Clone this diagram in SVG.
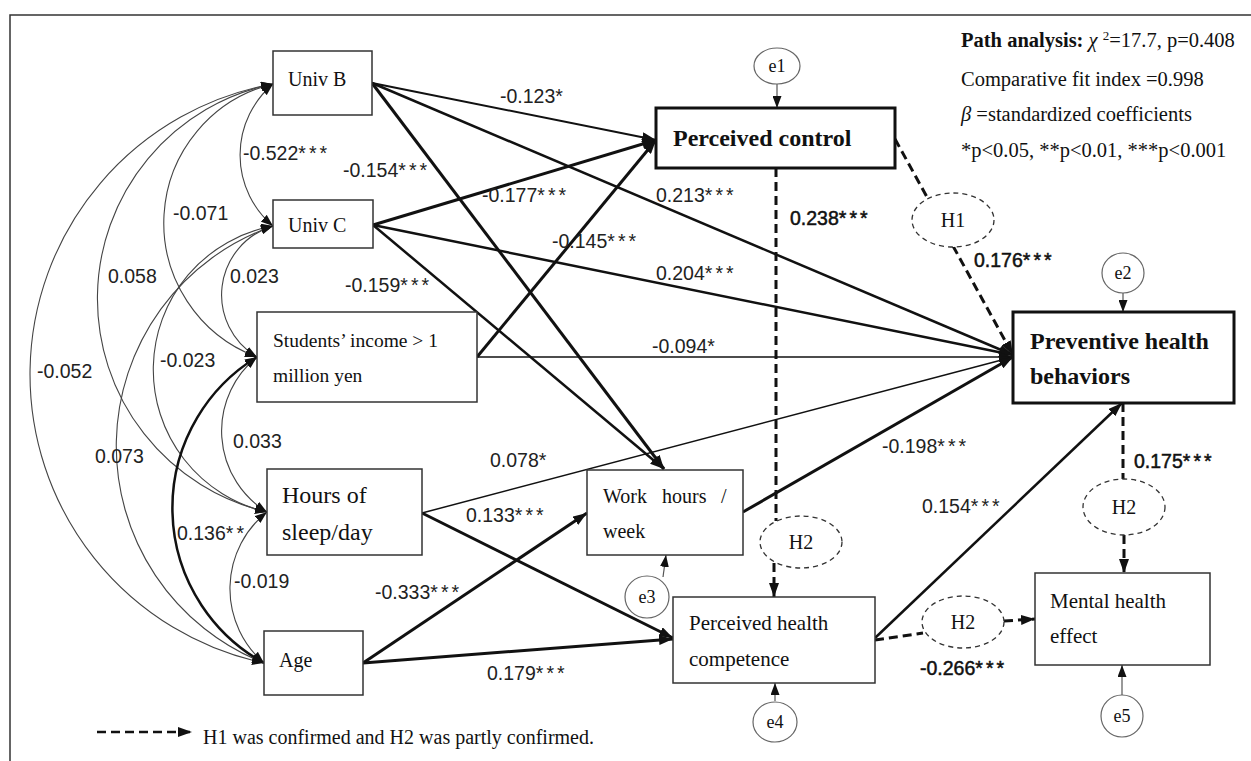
<svg xmlns="http://www.w3.org/2000/svg" width="1251" height="761" viewBox="0 0 1251 761">
<style>
.frame{fill:none;stroke:#333;stroke-width:1.5}
.box{fill:#fff;stroke:#333;stroke-width:1.5}
.tbox{fill:#fff;stroke:#111;stroke-width:3}
.err{fill:#fff;stroke:#666;stroke-width:1.2}
.hyp{fill:#fff;stroke:#333;stroke-width:1.3;stroke-dasharray:5 4}
.t{font-family:"Liberation Serif","Times New Roman",serif;fill:#111}
.n{font-family:"Liberation Sans",Arial,sans-serif;font-size:19.5px;fill:#222}
.nb{font-family:"Liberation Sans",Arial,sans-serif;font-size:19.5px;fill:#111;stroke:#111;stroke-width:0.5}
.s{letter-spacing:3px}
.cov{fill:none;stroke:#444;stroke-width:1.1;marker-start:url(#sa);marker-end:url(#sa)}
.p{fill:none;stroke:#111;marker-end:url(#ah)}
.d{fill:none;stroke:#111;stroke-width:3;stroke-dasharray:9 5}
.e{fill:none;stroke:#555;stroke-width:1.2;marker-end:url(#sa)}
</style>
<defs>
<marker id="ah" viewBox="0 0 14 10" refX="14" refY="5" markerWidth="14" markerHeight="10" markerUnits="userSpaceOnUse" orient="auto"><path d="M0,0 L14,5 L0,10 z" fill="#111"/></marker>
<marker id="sa" viewBox="0 0 12 9" refX="12" refY="4.5" markerWidth="12" markerHeight="9" markerUnits="userSpaceOnUse" orient="auto-start-reverse"><path d="M0,0 L12,4.5 L0,9 z" fill="#111"/></marker>
</defs>
<rect width="1251" height="761" fill="#fff"/>
<path class="frame" d="M10,761 V15 H1251"/>

<g id="connectors">
<path class="cov" d="M273,84 A93,93 0 0 0 273,226"/>
<path class="cov" d="M273,84 A143,143 0 0 0 257,357"/>
<path class="cov" d="M273,84 A219,219 0 0 0 267,512"/>
<path class="cov" d="M273,84 A295,295 0 0 0 264,663"/>
<path class="cov" d="M273,226 A72,72 0 0 0 257,357"/>
<path class="cov" d="M273,226 A146,146 0 0 0 267,512"/>
<path class="cov" d="M273,226 A233,233 0 0 0 264,663"/>
<path class="cov" d="M257,357 A95,95 0 0 0 267,512"/>
<path class="cov" d="M257,357 A177,177 0 0 0 264,663" style="stroke:#111;stroke-width:2.5"/>
<path class="cov" d="M267,512 A98,98 0 0 0 264,663"/>
<path class="p" d="M372,83 L656,140" stroke-width="2"/>
<path class="p" d="M372,83 L1013,355" stroke-width="2.5"/>
<path class="p" d="M372,83 L664,469" stroke-width="3"/>
<path class="p" d="M373,225 L656,140" stroke-width="3"/>
<path class="p" d="M373,225 L1013,355" stroke-width="2.5"/>
<path class="p" d="M373,225 L664,469" stroke-width="2.5"/>
<path class="p" d="M477,357 L656,140" stroke-width="3"/>
<path class="p" d="M477,357 L1013,357" stroke-width="1.5"/>
<path class="p" d="M422,513 L1013,357" stroke-width="1.5"/>
<path class="p" d="M422,513 L673,638" stroke-width="3"/>
<path class="p" d="M363,663 L587,513" stroke-width="3"/>
<path class="p" d="M363,663 L673,639" stroke-width="3"/>
<path class="p" d="M743,512 L1013,357" stroke-width="3"/>
<path class="p" d="M875,638 L1122,403" stroke-width="2.5"/>
<path class="d" d="M776,168 V521"/>
<path class="d" d="M774,563 V597" style="marker-end:url(#ah)"/>
<path class="d" d="M895,139 L927,197"/>
<path class="d" d="M953,246 L1013,355" style="marker-end:url(#ah)"/>
<path class="d" d="M1123,403 V479"/>
<path class="d" d="M1124,535 V573" style="marker-end:url(#ah)"/>
<path class="d" d="M875,640 L923,633"/>
<path class="d" d="M1004,621 L1035,619" style="marker-end:url(#ah)"/>
<path class="d" d="M97,732 H192" style="stroke-width:2.5;marker-end:url(#ah)"/>
<path class="e" d="M777,83 V108"/>
<path class="e" d="M1123,293 V312"/>
<path class="e" d="M663,577 L666,555"/>
<path class="e" d="M775,701 V683"/>
<path class="e" d="M1122,695 V665"/>
</g>

<g id="univB"><rect class="box" x="273" y="51" width="99" height="64"/><text class="t" x="288" y="86" font-size="20">Univ B</text></g>
<g id="univC"><rect class="box" x="273" y="200" width="100" height="48"/><text class="t" x="288" y="232" font-size="20">Univ C</text></g>
<g id="income"><rect class="box" x="257" y="312" width="220" height="90"/><text class="t" x="273" y="347" font-size="19.5">Students’ income &gt; 1</text><text class="t" x="273" y="382" font-size="19.5">million yen</text></g>
<g id="sleep"><rect class="box" x="267" y="469" width="155" height="86"/><text class="t" x="282" y="503" font-size="24">Hours of</text><text class="t" x="282" y="540" font-size="24">sleep/day</text></g>
<g id="age"><rect class="box" x="264" y="631" width="99" height="64"/><text class="t" x="279" y="667" font-size="20">Age</text></g>
<g id="work"><rect class="box" x="587" y="470" width="156" height="85"/><text class="t" x="603" y="503" font-size="20">Work</text><text class="t" x="662" y="503" font-size="20">hours</text><text class="t" x="721" y="503" font-size="20">/</text><text class="t" x="603" y="538" font-size="20">week</text></g>
<g id="control"><rect class="tbox" x="656" y="108" width="239" height="60"/><text class="t" x="673" y="146" font-size="24" font-weight="bold">Perceived control</text></g>
<g id="preventive"><rect class="tbox" x="1013" y="312" width="221" height="91"/><text class="t" x="1030" y="349" font-size="24" font-weight="bold">Preventive health</text><text class="t" x="1030" y="384" font-size="24" font-weight="bold">behaviors</text></g>
<g id="competence"><rect class="box" x="673" y="597" width="202" height="86"/><text class="t" x="689" y="630" font-size="21">Perceived health</text><text class="t" x="689" y="666" font-size="21">competence</text></g>
<g id="mental"><rect class="box" x="1035" y="573" width="175" height="92"/><text class="t" x="1050" y="608" font-size="21">Mental health</text><text class="t" x="1050" y="643" font-size="21">effect</text></g>

<g id="e1"><ellipse class="err" cx="777" cy="66" rx="23" ry="18"/><text class="t" x="777" y="72" font-size="18" text-anchor="middle">e1</text></g>
<g id="e2"><ellipse class="err" cx="1123" cy="273" rx="21" ry="20"/><text class="t" x="1123" y="279" font-size="18" text-anchor="middle">e2</text></g>
<g id="e3"><ellipse class="err" cx="647" cy="597" rx="22" ry="21"/><text class="t" x="647" y="603" font-size="18" text-anchor="middle">e3</text></g>
<g id="e4"><ellipse class="err" cx="775" cy="722" rx="22" ry="20"/><text class="t" x="775" y="728" font-size="18" text-anchor="middle">e4</text></g>
<g id="e5"><ellipse class="err" cx="1122" cy="716" rx="21" ry="21"/><text class="t" x="1122" y="722" font-size="18" text-anchor="middle">e5</text></g>

<g id="h1"><ellipse class="hyp" cx="953" cy="220" rx="41" ry="27"/><text class="t" x="953" y="227" font-size="20" text-anchor="middle">H1</text></g>
<g id="h2a"><ellipse class="hyp" cx="1124" cy="507" rx="41" ry="28"/><text class="t" x="1124" y="514" font-size="20" text-anchor="middle">H2</text></g>
<g id="h2b"><ellipse class="hyp" cx="801" cy="542" rx="41" ry="26"/><text class="t" x="801" y="549" font-size="20" text-anchor="middle">H2</text></g>
<g id="h2c"><ellipse class="hyp" cx="963" cy="622" rx="41" ry="26"/><text class="t" x="963" y="629" font-size="20" text-anchor="middle">H2</text></g>

<g id="labels">
<text class="n" x="243" y="160">-0.522<tspan class="s">***</tspan></text>
<text class="n" x="343" y="177">-0.154<tspan class="s">***</tspan></text>
<text class="n" x="173" y="220">-0.071</text>
<text class="n" x="108" y="283">0.058</text>
<text class="n" x="230" y="283">0.023</text>
<text class="n" x="345" y="292">-0.159<tspan class="s">***</tspan></text>
<text class="n" x="160" y="367">-0.023</text>
<text class="n" x="37" y="378">-0.052</text>
<text class="n" x="233" y="448">0.033</text>
<text class="n" x="95" y="463">0.073</text>
<text class="n" x="177" y="540">0.136<tspan class="s">**</tspan></text>
<text class="n" x="234" y="588">-0.019</text>
<text class="n" x="500" y="103">-0.123<tspan class="s">*</tspan></text>
<text class="n" x="482" y="202">-0.177<tspan class="s">***</tspan></text>
<text class="n" x="656" y="202">0.213<tspan class="s">***</tspan></text>
<text class="nb" x="790" y="225">0.238<tspan class="s">***</tspan></text>
<text class="n" x="552" y="248">-0.145<tspan class="s">***</tspan></text>
<text class="n" x="656" y="280">0.204<tspan class="s">***</tspan></text>
<text class="n" x="652" y="353">-0.094<tspan class="s">*</tspan></text>
<text class="n" x="490" y="467">0.078<tspan class="s">*</tspan></text>
<text class="n" x="466" y="522">0.133<tspan class="s">***</tspan></text>
<text class="n" x="375" y="599">-0.333<tspan class="s">***</tspan></text>
<text class="n" x="487" y="680">0.179<tspan class="s">***</tspan></text>
<text class="nb" x="974" y="267">0.176<tspan class="s">***</tspan></text>
<text class="n" x="882" y="453">-0.198<tspan class="s">***</tspan></text>
<text class="nb" x="1134" y="468">0.175<tspan class="s">***</tspan></text>
<text class="n" x="922" y="513">0.154<tspan class="s">***</tspan></text>
<text class="nb" x="920" y="675">-0.266<tspan class="s">***</tspan></text>
</g>

<g id="fit">
<text class="t" x="961" y="47" font-size="20.5"><tspan font-weight="bold">Path analysis:</tspan> <tspan font-style="italic">χ </tspan><tspan dy="-7" font-size="13">2</tspan><tspan dy="7">=17.7, p=0.408</tspan></text>
<text class="t" x="961" y="86" font-size="20.5">Comparative fit index =0.998</text>
<text class="t" x="961" y="121" font-size="20.5"><tspan font-style="italic">β</tspan> =standardized coefficients</text>
<text class="t" x="961" y="157" font-size="20.5">*p&lt;0.05, **p&lt;0.01, ***p&lt;0.001</text>
</g>
<g id="legend"><text class="t" x="203" y="744" font-size="20">H1 was confirmed and H2 was partly confirmed.</text></g>
</svg>
